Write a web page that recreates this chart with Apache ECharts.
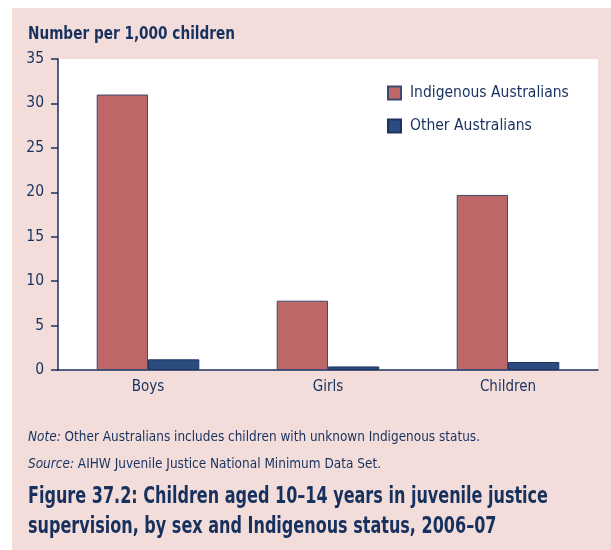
<!DOCTYPE html>
<html><head><meta charset="utf-8">
<script src="https://cdn.jsdelivr.net/npm/echarts@6/dist/echarts.min.js"></script>
<style>html,body{margin:0;padding:0;background:#fff}#c{width:611px;height:550px}</style>
</head><body><div id="c"></div>
<script>
const categories = ['Boys', 'Girls', 'Children'];
const indigenous = [31.0, 7.8, 19.7];
const other = [1.2, 0.4, 0.9];
const seriesNames = ['Indigenous Australians', 'Other Australians'];
const yTicks = { min: 0, max: 35, interval: 5 };

const NAVY = '#17315e';
const FONT = '"DejaVu Sans Condensed", "Liberation Sans Narrow", sans-serif';
const mctx = document.createElement('canvas').getContext('2d');
function w(font, txt) { mctx.font = font; return mctx.measureText(txt).width; }
function fitText(x, y, parts, target, lineHeight) {
  // parts: array of lines; each line array of [font, text]
  let maxW = 0;
  parts.forEach(line => { let s = 0; line.forEach(p => s += w(p[0], p[1])); maxW = Math.max(maxW, s); });
  return maxW > 0 ? target / maxW : 1;
}
const titleFont = 'bold 18px ' + FONT;
const noteFont = '14px ' + FONT;
const noteItal = 'italic 14px ' + FONT;
const figFont = 'bold 23px ' + FONT;
const noteRest = ' Other Australians includes children with unknown Indigenous status.';
const srcRest = ' AIHW Juvenile Justice National Minimum Data Set.';
const fig1 = 'Figure 37.2: Children aged 10\u201314 years in juvenile justice';
const fig2 = 'supervision, by sex and Indigenous status, 2006\u201307';

const sTitle = fitText(0, 0, [[[titleFont, 'Number per 1,000 children']]], 207);
const sNote = fitText(0, 0, [[[noteItal, 'Note:'], [noteFont, noteRest]]], 452);
const sSrc = fitText(0, 0, [[[noteItal, 'Source:'], [noteFont, srcRest]]], 353);
const sFig = fitText(0, 0, [[[figFont, fig1]]], 520);

const chart = echarts.init(document.getElementById('c'), null, { renderer: 'canvas' });
chart.setOption({
  animation: false,
  backgroundColor: '#ffffff',
  textStyle: { fontFamily: FONT, color: NAVY },
  graphic: [
    { type: 'rect', z: -10, shape: { x: 12, y: 8, width: 599, height: 542 }, style: { fill: '#F2DDDB' } },
    { type: 'text', x: 28, y: 34, scaleX: sTitle, style: { text: 'Number per 1,000 children', font: titleFont, fill: NAVY, verticalAlign: 'middle' } },
    { type: 'text', x: 28, y: 437, scaleX: sNote, style: {
        text: '{i|Note:}' + noteRest,
        rich: { i: { fontStyle: 'italic', fontSize: 14, fontFamily: FONT, fill: NAVY } },
        font: noteFont, fill: NAVY, verticalAlign: 'middle' } },
    { type: 'text', x: 28, y: 464, scaleX: sSrc, style: {
        text: '{i|Source:}' + srcRest,
        rich: { i: { fontStyle: 'italic', fontSize: 14, fontFamily: FONT, fill: NAVY } },
        font: noteFont, fill: NAVY, verticalAlign: 'middle' } },
    { type: 'text', x: 28, y: 497, scaleX: sFig, style: { text: fig1, font: figFont, fill: NAVY, verticalAlign: 'middle' } },
    { type: 'text', x: 28, y: 527, scaleX: sFig, style: { text: fig2, font: figFont, fill: NAVY, verticalAlign: 'middle' } }
  ],
  legend: {
    orient: 'vertical', left: 387, top: 85, padding: 0, itemWidth: 13, itemHeight: 13, itemGap: 17,
    icon: 'rect',
    textStyle: { fontSize: 15.5, color: NAVY, fontFamily: FONT, padding: [0, 0, 0, 4] },
    data: seriesNames
  },
  grid: { left: 58, top: 59, right: 13, bottom: 180, show: true, backgroundColor: '#ffffff', borderWidth: 0 },
  xAxis: {
    type: 'category', data: categories,
    axisLine: { lineStyle: { color: NAVY, width: 1.5 } },
    axisTick: { show: false },
    axisLabel: { fontSize: 15, color: NAVY, margin: 10, fontFamily: FONT }
  },
  yAxis: {
    type: 'value', min: yTicks.min, max: yTicks.max, interval: yTicks.interval,
    axisLine: { show: true, lineStyle: { color: NAVY, width: 1.5 } },
    axisTick: { show: true, length: 7, lineStyle: { color: NAVY, width: 1.5 } },
    splitLine: { show: false },
    axisLabel: { fontSize: 15.5, color: NAVY, margin: 14, fontFamily: FONT }
  },
  series: [
    { name: seriesNames[0], type: 'bar', data: indigenous, barGap: '0%', barCategoryGap: '43%',
      itemStyle: { color: '#BE6769', borderColor: '#3a4a70', borderWidth: 1 } },
    { name: seriesNames[1], type: 'bar', data: other,
      itemStyle: { color: '#2B4C7E', borderColor: '#1d3461', borderWidth: 1 } }
  ]
});
</script></body></html>
